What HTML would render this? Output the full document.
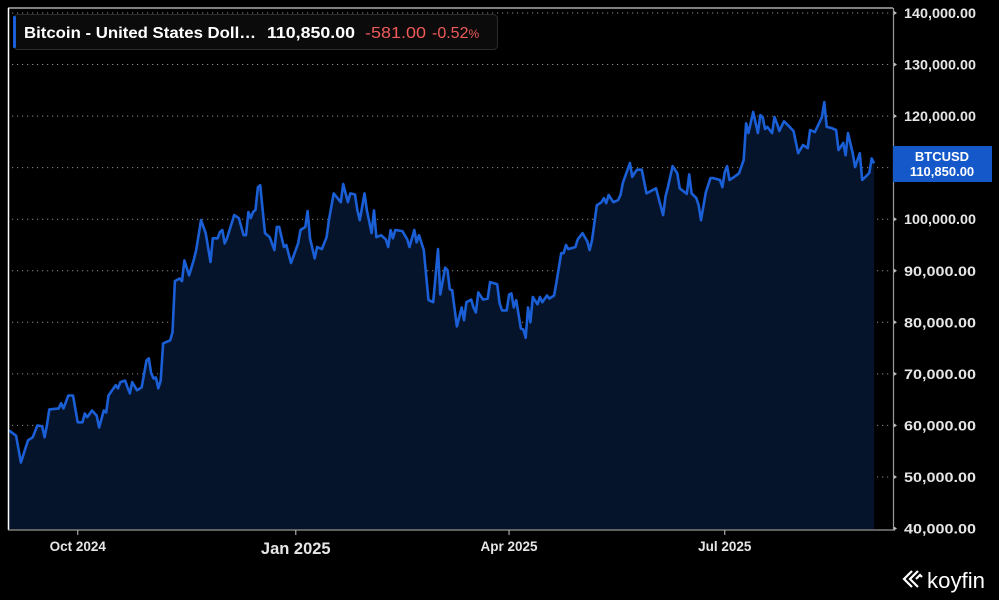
<!DOCTYPE html>
<html><head><meta charset="utf-8"><style>
html,body{margin:0;padding:0;background:#000;width:999px;height:600px;overflow:hidden;font-family:"Liberation Sans",sans-serif}
</style></head><body>
<svg id="chart" width="999" height="600" xmlns="http://www.w3.org/2000/svg" style="display:block">
<rect width="999" height="600" fill="#000"/>
<g id="grid"></g>
<path id="area" fill="#06142b"/>
<path id="line" fill="none" stroke="#1a5fd6" stroke-width="2.6" stroke-linejoin="round"/>
<line x1="8.5" y1="8" x2="8.5" y2="530" stroke="#fff" stroke-width="1.5"/>
<line x1="8" y1="8" x2="893" y2="8" stroke="#fff" stroke-width="1"/>
<line x1="893.5" y1="8" x2="893.5" y2="530" stroke="#999" stroke-width="1.2"/>
<line x1="8" y1="530" x2="895" y2="530" stroke="#999" stroke-width="1.2"/>
<g id="yaxis"></g>
<g id="xaxis"></g>
<g>
<rect x="13.5" y="14.5" width="484" height="35" rx="4" fill="#0b0b0b" stroke="#2c2c2c"/>
<rect x="13" y="16" width="3" height="32" rx="1" fill="#1a5fd6"/>
<text x="24" y="38" fill="#fff" font-size="16" font-weight="bold" textLength="232" lengthAdjust="spacingAndGlyphs">Bitcoin - United States Doll…</text>
<text x="267" y="38" fill="#fff" font-size="16" font-weight="bold" textLength="88" lengthAdjust="spacingAndGlyphs">110,850.00</text>
<text x="365" y="38" fill="#f05a5a" font-size="16" textLength="61" lengthAdjust="spacingAndGlyphs">-581.00</text>
<text x="432" y="38" fill="#f05a5a" font-size="16">-0.52<tspan font-size="12">%</tspan></text>
</g>
<g>
<rect x="893" y="146" width="99" height="36" fill="#1558c9"/>
<text x="942" y="161" text-anchor="middle" fill="#fff" font-size="13" font-weight="bold">BTCUSD</text>
<text x="942" y="176" text-anchor="middle" fill="#fff" font-size="13" font-weight="bold">110,850.00</text>
</g>
<g>
<path d="M912 571 L904 579 L912 587 M918 571 L910 579 L918 587 M916 579 L920 575 L922 577" fill="none" stroke="#fff" stroke-width="2.2"/>
<text x="927" y="588" fill="#fff" font-size="22" textLength="58" lengthAdjust="spacingAndGlyphs">koyfin</text>
</g>
</svg>
<script>
const dayOffsets=[0,3,5,6,8,10,12,14,15,16,17,21,22,23,25,27,29,31,32,33,35,37,38,40,41,42,45,46,47,49,50,51,52,54,56,58,59,60,61,62,63,64,65,68,69,70,72,73,74,76,78,79,81,83,85,86,88,89,90,91,92,95,97,99,100,101,102,103,104,105,106,108,110,112,113,114,116,117,119,122,123,125,126,127,129,130,132,134,135,137,140,141,143,144,146,147,148,150,151,153,154,155,157,159,160,161,162,163,166,168,169,171,172,173,175,177,179,181,182,184,185,186,187,189,191,192,193,195,196,197,198,200,202,203,206,207,208,210,211,212,213,214,216,217,218,219,220,221,223,224,225,227,228,230,231,233,234,235,236,239,240,242,244,245,246,248,250,251,252,253,255,257,258,259,262,263,264,265,267,269,273,276,277,278,280,282,283,286,287,288,290,291,292,294,296,297,300,301,302,303,304,306,308,310,311,312,314,316,317,318,319,320,322,323,324,325,327,329,331,333,335,337,338,340,342,343,344,345,347,349,350,352,353,354,356,357,359,360,362,363,364,365];
const prices=[59030,58000,52800,54200,57100,57700,60000,59800,57700,60000,63100,63300,64300,63300,65800,65800,60600,60600,62300,61600,62900,61900,59600,62900,62500,65800,67800,67200,68400,68700,67400,66200,68400,66800,67400,72600,73000,70100,69100,69300,67200,68700,75900,76500,78100,88000,88500,88000,92000,89100,92200,94000,99800,97300,91700,96300,96300,97500,97900,95300,96300,100800,100200,96900,96900,101400,100200,101400,101800,106200,106600,97300,96500,94000,98500,98500,94600,95000,91500,95300,97900,98500,101600,96300,92400,94600,94200,96500,99800,105000,103300,106800,103300,105000,104800,101700,99800,105000,101700,97300,101700,96500,96900,96100,94600,97900,96300,97900,97700,96100,94600,97900,95500,96900,94000,84300,83900,94200,85400,90600,90100,86400,86200,79200,82900,80400,83900,84400,82900,81900,85800,84400,84600,87800,87400,83700,82300,82300,85400,85600,82900,84300,78800,78600,77000,82900,80000,84900,83500,84900,83900,85200,84600,85200,87800,93400,93400,95000,94200,94600,96100,97300,95700,94000,95900,102700,103300,104100,103100,104700,103300,103700,104700,107000,110900,108200,109000,109600,109600,105000,106000,100800,104400,106200,110300,108900,106000,104900,108700,105000,104100,102700,99800,105200,108000,108000,107600,106200,109100,110300,107600,108200,108900,111500,118600,116700,120800,116700,120200,119800,117500,117900,116700,119800,118600,117100,119000,118100,117100,112800,114400,113800,117300,116900,118800,119800,122700,117900,117700,117300,113400,114800,112400,116700,112800,110100,112800,107600,108500,109000,111800,110850];
const yTicks=[140000,130000,120000,110000,100000,90000,80000,70000,60000,50000,40000];
const xTickDays=[29,121,211,302];
const xTickLabels=["Oct 2024","Jan 2025","Apr 2025","Jul 2025"];

const NS="http://www.w3.org/2000/svg";
function xScale(d){return 9+d*2.37;}
function yScale(v){return 13+(140000-v)/10000*51.55;}
function mk(tag,attrs,parent){const e=document.createElementNS(NS,tag);for(const k in attrs)e.setAttribute(k,attrs[k]);parent.appendChild(e);return e;}
const grid=document.getElementById('grid'),ya=document.getElementById('yaxis'),xa=document.getElementById('xaxis');
yTicks.forEach(v=>{
  const y=yScale(v);
  if(v>40000){
    const g=mk('line',{x1:12,y1:y,x2:890,y2:y,stroke:'#8a8a8a','stroke-width':1,'stroke-dasharray':'1.2 3.8'},grid);
    
    
  }
  const m=mk('path',{d:`M894 ${y-2} L897 ${y} L894 ${y+2}Z`,fill:'#bbb'},ya);
  
  
  const t=mk('text',{x:904,y:y+5,fill:'#e6e6e6','font-size':14,'font-weight':'bold',textLength:72,lengthAdjust:'spacingAndGlyphs'},ya);
  t.textContent=v.toLocaleString('en-US',{minimumFractionDigits:2});
  
  
});
xTickDays.forEach((d,i)=>{
  const x=xScale(d);
  const m=mk('line',{x1:x,y1:530,x2:x,y2:535,stroke:'#aaa','stroke-width':1.2},xa);
  
  
  const big=i===1;
  const t=mk('text',{x:x,y:big?554:551,'text-anchor':'middle',fill:'#e6e6e6','font-size':big?16.5:13.5,'font-weight':'bold'},xa);
  t.textContent=xTickLabels[i];
  
  
});
let d='';
dayOffsets.forEach((o,i)=>{d+=(i?'L':'M')+xScale(o).toFixed(1)+' '+yScale(prices[i]).toFixed(1)+' ';});
document.getElementById('line').setAttribute('d',d);
const last=dayOffsets[dayOffsets.length-1];
document.getElementById('area').setAttribute('d',d+`L${xScale(last).toFixed(1)} 529 L${xScale(0)} 529 Z`);
</script>
</body></html>
